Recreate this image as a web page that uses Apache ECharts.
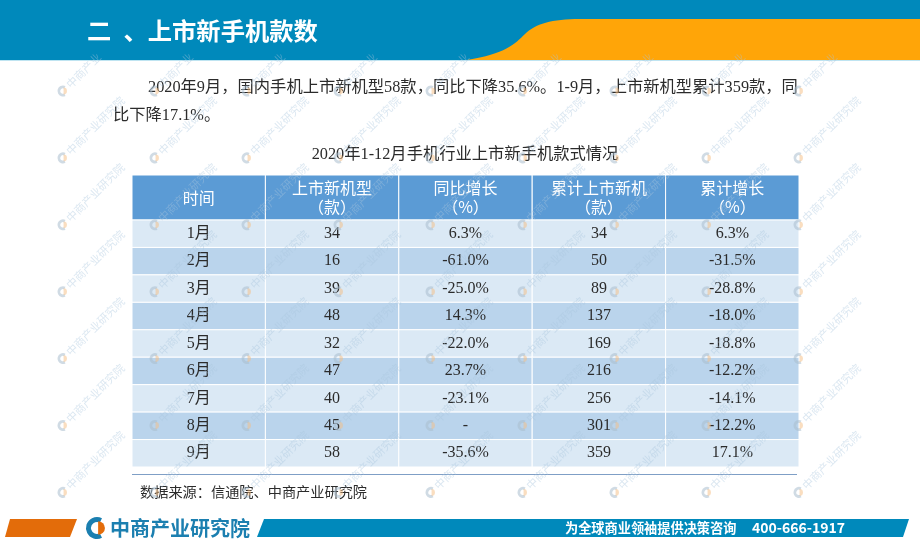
<!DOCTYPE html>
<html>
<head>
<meta charset="utf-8">
<title>上市新手机款数</title>
<style>
  html, body { margin: 0; padding: 0; background: #fff; }
  #chart { width: 920px; height: 547px; }
</style>
<script src="https://cdn.jsdelivr.net/npm/echarts@6/dist/echarts.min.js"></script>
</head>
<body>
<div id="chart"></div>
<script>
// ===== 数据 =====
const headers = ['时间', '上市新机型\n（款）', '同比增长\n（%）', '累计上市新机\n（款）', '累计增长\n（%）']
const months = ['1月', '2月', '3月', '4月', '5月', '6月', '7月', '8月', '9月']
const newModels = ['34', '16', '39', '48', '32', '47', '40', '45', '58']
const yoyGrowth = ['6.3%', '-61.0%', '-25.0%', '14.3%', '-22.0%', '23.7%', '-23.1%', '-', '-35.6%']
const cumulative = ['34', '50', '89', '137', '169', '216', '256', '301', '359']
const cumulativeGrowth = ['6.3%', '-31.5%', '-28.8%', '-18.0%', '-18.8%', '-12.2%', '-14.1%', '-12.2%', '17.1%']

const tableColumns = [months, newModels, yoyGrowth, cumulative, cumulativeGrowth]
const tableTitle = '2020年1-12月手机行业上市新手机款式情况'
const paragraph = [
  '2020年9月，国内手机上市新机型58款，同比下降35.6%。1-9月，上市新机型累计359款，同',
  '比下降17.1%。',
]

const FONT = '"Liberation Serif", "Noto Sans CJK SC", serif'
const HEI = '"Noto Sans CJK SC", sans-serif'
const BLUE = '#0089bb'
const ORANGE = '#ffa508'

// 顶部橙色曲线块
echarts.graphic.registerShape('bannerCurve', echarts.graphic.extendShape({
  buildPath(ctx) {
    ctx.moveTo(467, 60)
    ctx.bezierCurveTo(505, 54, 515, 44, 525, 34)
    ctx.bezierCurveTo(535, 24, 552, 19, 580, 19)
    ctx.lineTo(920, 19)
    ctx.lineTo(920, 60)
    ctx.closePath()
  },
}))

const chart = echarts.init(document.getElementById('chart'))

// ===== 单元格绘制 =====
function renderHeaderCell(params, api) {
  const col = api.value(0)
  const p = api.coord([col, 0])
  const s = api.size([1, 1])
  return {
    type: 'group',
    children: [
      {
        type: 'rect',
        shape: { x: p[0] - s[0] / 2, y: p[1] - s[1] / 2, width: s[0], height: s[1] },
        style: { fill: '#5b9bd5', stroke: '#fff', lineWidth: 1 },
      },
      {
        type: 'text',
        style: {
          x: p[0], y: p[1], text: headers[col], align: 'center', verticalAlign: 'middle',
          fill: '#fff', font: '16px ' + HEI, lineHeight: 19,
        },
      },
    ],
  }
}

function renderBodyCell(params, api) {
  const col = api.value(0)
  const row = api.value(1)
  const p = api.coord([col, row])
  const s = api.size([1, 1])
  return {
    type: 'group',
    children: [
      {
        type: 'rect',
        shape: { x: p[0] - s[0] / 2, y: p[1] - s[1] / 2, width: s[0], height: s[1] },
        style: { fill: row % 2 ? '#bad4ec' : '#dbe9f5', stroke: '#fff', lineWidth: 1 },
      },
      {
        type: 'text',
        style: {
          x: p[0], y: p[1], text: tableColumns[col][row], align: 'center', verticalAlign: 'middle',
          fill: '#2b2b2b', font: '16px ' + FONT,
        },
      },
    ],
  }
}

const headerCells = headers.map((h, col) => [col, 0])
const bodyCells = []
tableColumns.forEach((column, col) => {
  column.forEach((v, row) => bodyCells.push([col, row]))
})

// ===== 版式装饰 =====
function logoMark(cx, cy, r, width, left, right, z) {
  return [
    { type: 'sector', silent: true, z, shape: { cx, cy, r, r0: r - width, startAngle: Math.PI * 0.35, endAngle: Math.PI * 1.65 }, style: { fill: left } },
    { type: 'sector', silent: true, z, shape: { cx: cx + r * 0.1, cy, r: r * 0.62, r0: 0, startAngle: -Math.PI * 0.5, endAngle: Math.PI * 0.5 }, style: { fill: right } },
  ]
}

const decorations = [
  { type: 'rect', z: 0, shape: { x: 0, y: 0, width: 920, height: 60 }, style: { fill: BLUE } },
  { type: 'rect', z: 0, shape: { x: 0, y: 60, width: 920, height: 1 }, style: { fill: '#bfe4f1' } },
  { type: 'bannerCurve', z: 0, shape: {}, style: { fill: ORANGE } },
  { type: 'text', z: 1, x: 87, y: 30.5, style: { text: '二\u2002、上市新手机款数', fill: '#fff', font: 'bold 24.3px ' + HEI, verticalAlign: 'middle' } },
  { type: 'text', z: 1, x: 148, y: 88, style: { text: paragraph[0], fill: '#2b2b2b', font: '16.3px ' + FONT, verticalAlign: 'middle' } },
  { type: 'text', z: 1, x: 113, y: 116, style: { text: paragraph[1], fill: '#2b2b2b', font: '16.3px ' + FONT, verticalAlign: 'middle' } },
  { type: 'rect', z: 1, shape: { x: 132, y: 474, width: 665, height: 1 }, style: { fill: '#7f9fc6' } },
  { type: 'text', z: 1, x: 140, y: 493, style: { text: '数据来源：信通院、中商产业研究院', fill: '#2b2b2b', font: '14.2px ' + FONT, verticalAlign: 'middle' } },
  // 页脚
  { type: 'polygon', z: 0, shape: { points: [[10, 519], [77, 519], [70, 537], [5, 537]] }, style: { fill: '#e36c0a' } },
  { type: 'polygon', z: 0, shape: { points: [[264, 519], [909, 519], [903, 537], [257, 537]] }, style: { fill: BLUE } },
  ...logoMark(97, 528, 11, 5, '#1b7fb0', '#e36c0a', 1),
  { type: 'text', z: 1, x: 110, y: 528, style: { text: '中商产业研究院', fill: '#1b7fb0', font: 'bold 20px ' + HEI, verticalAlign: 'middle' } },
  { type: 'text', z: 1, x: 565, y: 528, style: { text: '为全球商业领袖提供决策咨询', fill: '#fff', font: 'bold 13.2px ' + HEI, verticalAlign: 'middle' } },
  { type: 'text', z: 1, x: 752, y: 528, style: { text: '400-666-1917', fill: '#fff', font: 'bold 14px ' + HEI, verticalAlign: 'middle' } },
]

// 水印：每行 9 个铺满页面，第一行上半截被顶栏盖住
const watermarks = []
for (let j = 0; j < 7; j++) {
  for (let i = 0; i < 9; i++) {
    const x = 63 + i * 92
    const y = 91 + j * 66.9
    watermarks.push(...logoMark(x, y, 5.5, 2.8, 'rgba(170,190,205,0.55)', 'rgba(245,190,130,0.5)', 50))
    watermarks.push({
      type: 'text', silent: true, z: 50, x: x + 5, y: y - 5, rotation: Math.PI / 4,
      style: { text: j === 0 ? '中商产业' : '中商产业研究院', fill: 'rgba(170,198,222,0.42)', font: '11px ' + HEI, verticalAlign: 'middle' },
    })
  }
}

// ===== 配置 =====
chart.setOption({
  animation: false,
  title: {
    text: tableTitle,
    left: 465,
    top: 146,
    textAlign: 'center',
    padding: 0,
    textStyle: { fontFamily: FONT, fontSize: 16.3, fontWeight: 'normal', color: '#2b2b2b', lineHeight: 18 },
  },
  grid: [
    { left: 132, top: 175, width: 667, height: 45 },
    { left: 132, top: 220, width: 667, height: 247 },
  ],
  xAxis: [
    { gridIndex: 0, type: 'category', data: headers, show: false },
    { gridIndex: 1, type: 'category', data: headers, show: false },
  ],
  yAxis: [
    { gridIndex: 0, type: 'category', data: ['表头'], show: false },
    { gridIndex: 1, type: 'category', data: months, inverse: true, show: false },
  ],
  series: [
    { type: 'custom', xAxisIndex: 0, yAxisIndex: 0, data: headerCells, renderItem: renderHeaderCell, silent: true },
    { type: 'custom', xAxisIndex: 1, yAxisIndex: 1, data: bodyCells, renderItem: renderBodyCell, silent: true },
  ],
  graphic: { elements: decorations.concat(watermarks) },
})
</script>
</body>
</html>
